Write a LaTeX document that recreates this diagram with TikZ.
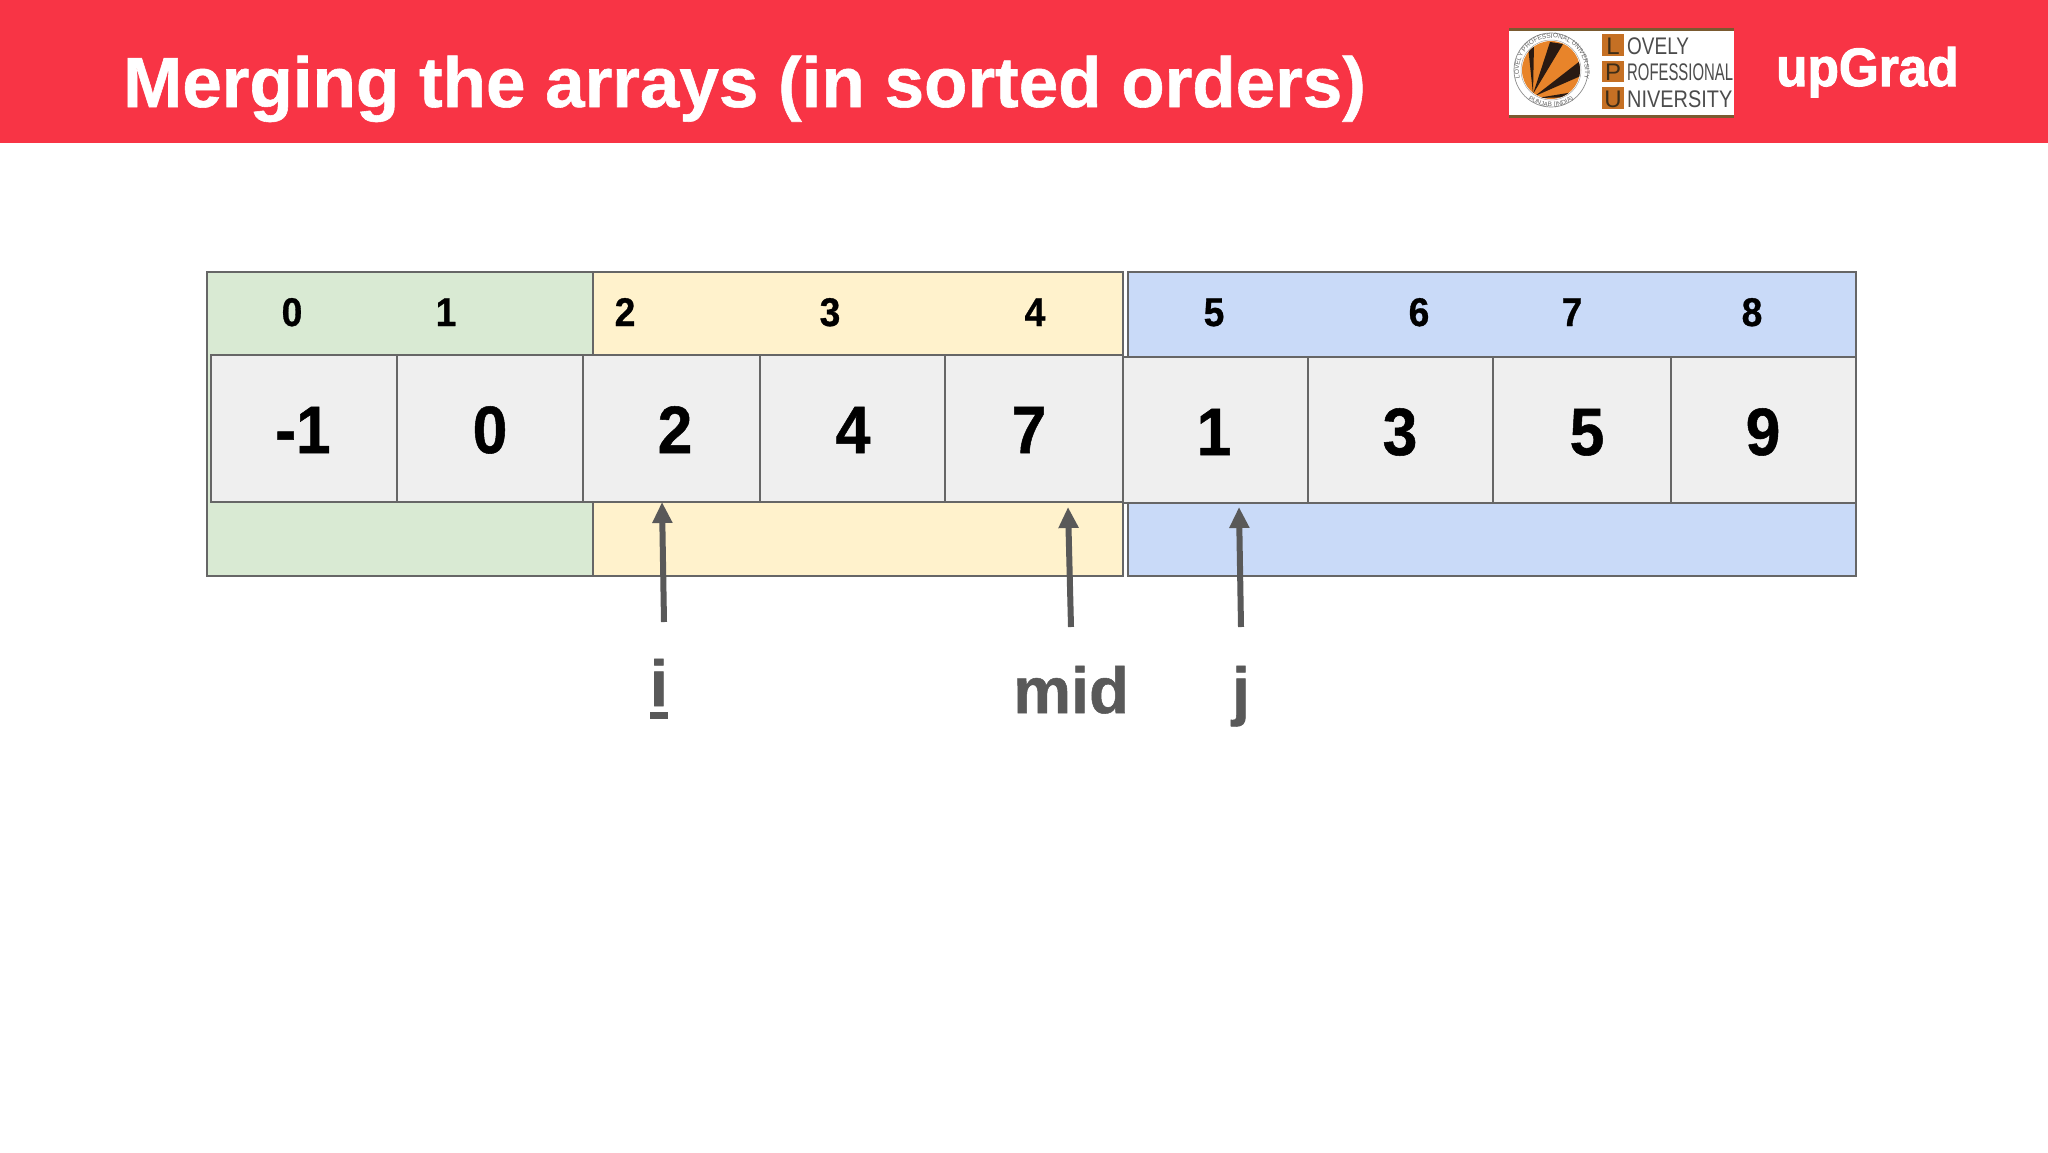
\documentclass[tikz,border=0pt]{standalone}
\usepackage{fontspec}
\setmainfont{Liberation Sans}
\newfontfamily\hvy[FakeBold=0.8]{Liberation Sans Bold}
\newfontfamily\hvyb[FakeBold=2]{Liberation Sans Bold}
\usetikzlibrary{arrows.meta,decorations.text}
\definecolor{hdr}{HTML}{F83445}
\definecolor{grn}{HTML}{D9EAD3}
\definecolor{yel}{HTML}{FFF2CC}
\definecolor{blu}{HTML}{C9DAF8}
\definecolor{cel}{HTML}{EFEFEF}
\definecolor{lin}{HTML}{666666}
\definecolor{dgr}{HTML}{595959}
\definecolor{org}{HTML}{E8842A}
\definecolor{brn}{HTML}{7A5A30}
\definecolor{ray}{HTML}{2A1A12}
\newcommand{\fs}[1]{\fontsize{#1}{#1}\selectfont}
\newcommand{\nar}[1]{\scalebox{.93}[1]{#1}}
\tikzset{
 x=1pt,y=-1pt,
 band/.style={draw=lin,line width=1.6pt},
 cell/.style={draw=lin,fill=cel,line width=1.6pt},
 idx/.style={anchor=base,inner sep=0pt,font=\fs{40}\hvy},
 val/.style={anchor=base,inner sep=0pt,font=\fs{67}\hvy},
 ptr/.style={anchor=base,inner sep=0pt,text=dgr,font=\fs{65}\hvy},
 arr/.style={draw=dgr,line width=6pt,-{Triangle[width=19pt,length=21pt]}},
 lpubox/.style={fill=org!85!black,draw=none},
 lpul/.style={anchor=base,inner sep=0pt,font=\fs{24}\color{brn!50!black}},
 lput/.style={anchor=base west,inner sep=0pt,text=black!70,font=\fs{24}},
}
\begin{document}
\begin{tikzpicture}
\useasboundingbox (0,0) rectangle (2048,1152);
\fill[white] (0,0) rectangle (2048,1152);
\fill[hdr] (0,0) rectangle (2048,143);
\node[anchor=base west,inner sep=0pt,text=white,font=\fs{71}\hvy] (title) at (123,107) {Merging the arrays (in sorted orders)};
% LPU logo
\fill[white] (1509,29) rectangle (1734,117);
\fill[brn] (1509,28) rectangle (1734,31);
\fill[brn] (1509,115) rectangle (1734,118);
\draw[black!45,line width=.7pt] (1551,70) circle (37);
\draw[black!35,line width=.5pt] (1551,70) circle (30);
\fill[org] (1551,70) circle (29);
\begin{scope}
\clip (1551,70) circle (29);
\fill[ray] (1533,94) -- (1528,46) -- (1534,44) -- cycle;
\fill[ray] (1533,94) -- (1550,42) -- (1563,44) -- cycle;
\fill[ray] (1535,96) -- (1580,61) -- (1583,75) -- cycle;
\fill[ray] (1537,98) -- (1574,92) -- (1578,97) -- cycle;
\end{scope}
\path[decorate,decoration={text along path,text align=center,text={|\fs{6.5}\color{black!60}|LOVELY PROFESSIONAL UNIVERSITY}}] (1521,82.3) arc[start angle=160,end angle=380,radius=33];
\path[decorate,decoration={text along path,text align=center,text={|\fs{6.5}\color{black!60}|PUNJAB (INDIA)}}] (1525.5,96.5) arc[start angle=135,end angle=45,radius=36];
\fill[lpubox] (1602,34) rectangle (1624,56);
\fill[lpubox] (1602,61) rectangle (1624,82);
\fill[lpubox] (1602,87) rectangle (1624,109);
\node[lpul] (lL) at (1613,54) {L};
\node[lpul] (lP) at (1613,80) {P};
\node[lpul] (lU) at (1613,107) {U};
\node[lput] (lovely) at (1627,54) {\scalebox{.79}[1]{OVELY}};
\node[lput] (prof) at (1627,80) {\scalebox{.62}[1]{ROFESSIONAL}};
\node[lput] (univ) at (1627,107) {\scalebox{.83}[1]{NIVERSITY}};
\node[anchor=base west,inner sep=0pt,text=white,font=\fs{54}\hvyb] (upg) at (1776,86) {\scalebox{.95}[1]{upGrad}};
% bands
\filldraw[band,fill=grn] (207,272) rectangle (593,576);
\filldraw[band,fill=yel] (593,272) rectangle (1123,576);
\filldraw[band,fill=blu] (1128,272) rectangle (1856,576);
% cells
\foreach \n/\a/\b in {c0/211/397,c1/397/583,c2/583/760,c3/760/945,c4/945/1123}
  \draw[cell] (\a,355) rectangle (\b,502);
\foreach \n/\a/\b in {c5/1123/1308,c6/1308/1493,c7/1493/1671,c8/1671/1856}
  \draw[cell] (\a,357) rectangle (\b,503);
% indices
\foreach \x/\t in {292/0,446/1,625/2,830/3,1035/4,1214/5,1419/6,1572/7,1752/8}
  \node[idx] (i\t) at (\x,326) {\nar{\t}};
% values
\node[val] (v0) at (303,453) {\nar{-1}};
\node[val] (v1) at (490,453) {\nar{0}};
\node[val] (v2) at (675,453) {\nar{2}};
\node[val] (v3) at (853,453) {\nar{4}};
\node[val] (v4) at (1029,453) {\nar{7}};
\node[val] (v5) at (1214,455) {\nar{1}};
\node[val] (v6) at (1400,455) {\nar{3}};
\node[val] (v7) at (1587,455) {\nar{5}};
\node[val] (v8) at (1763,455) {\nar{9}};
% pointers
\coordinate (iTail) at (664,622);
\coordinate (iTip) at (662,502);
\coordinate (mTail) at (1071,627);
\coordinate (mTip) at (1068,507);
\coordinate (jTail) at (1241,627);
\coordinate (jTip) at (1239,507);
\draw[arr] (iTail) -- (iTip);
\draw[arr] (mTail) -- (mTip);
\draw[arr] (jTail) -- (jTip);
\node[ptr] (pi) at (659,706) {i};
\fill[dgr] (650,712) rectangle (668,719);
\node[ptr] (pm) at (1071,713) {mid};
\node[ptr] (pj) at (1241,713) {j};
\end{tikzpicture}
\end{document}
